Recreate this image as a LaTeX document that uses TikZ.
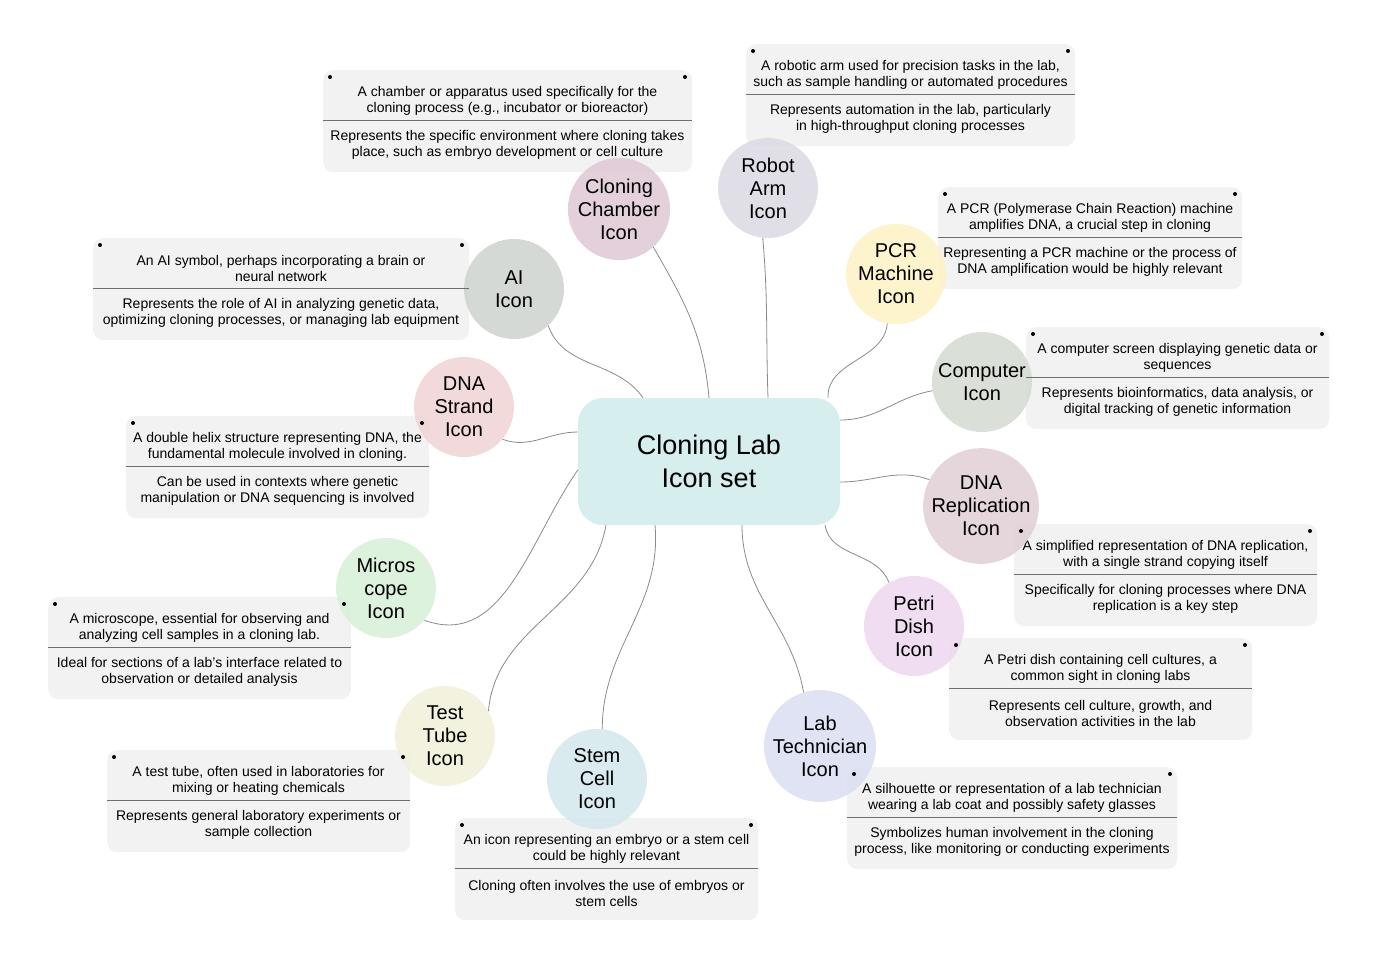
\documentclass[tikz,border=0pt]{standalone}
\usepackage{fontspec}
\setmainfont{Liberation Sans}
\usepackage{xcolor}
\definecolor{rootfill}{HTML}{D6EEEE}
\definecolor{cardfill}{HTML}{F2F2F2}
\definecolor{cardrule}{HTML}{6E6E6E}
\definecolor{linkgray}{HTML}{8A8A8A}
\definecolor{chamberfill}{HTML}{DFCAD6}
\definecolor{robotfill}{HTML}{DCDAE4}
\definecolor{aifill}{HTML}{CFD4D0}
\definecolor{pcrfill}{HTML}{FDF1C6}
\definecolor{computerfill}{HTML}{D5DBD2}
\definecolor{strandfill}{HTML}{F0D5D6}
\definecolor{replfill}{HTML}{E0D0D5}
\definecolor{microfill}{HTML}{D8F0D8}
\definecolor{petrifill}{HTML}{EFD8F0}
\definecolor{tubefill}{HTML}{F0F0D9}
\definecolor{stemfill}{HTML}{D5E8EE}
\definecolor{techfill}{HTML}{DCDFF2}
\pgfdeclarelayer{front}
\pgfsetlayers{main,front}
\tikzset{
  root/.style={rounded corners=25pt, fill=rootfill, minimum width=262pt, minimum height=127pt,
    align=center, font=\fontsize{27}{33}\selectfont},
  icon/.style={circle, minimum size=100pt, inner sep=0pt, align=center,
    font=\fontsize{20}{23}\selectfont, fill opacity=0.88, text opacity=1},
  cardbox/.style={rounded corners=10pt, fill=cardfill, minimum height=102pt, inner sep=0pt},
  cardtext/.style={align=center, inner sep=0pt, font=\fontsize{14}{16}\selectfont},
  link/.style={draw=linkgray, line width=0.8pt}
}
% card: name, left x, top y, width, first text, second text
\newcommand{\infocard}[6]{
  \begin{scope}[shift={(#2,-#3)}]
    \node[cardbox, minimum width=#4pt, anchor=north west] (#1) at (0,0) {};
    \node[cardtext] (#1-a) at (#4/2,-30.5) {#5};
    \node[cardtext] (#1-b) at (#4/2,-75) {#6};
    \begin{pgfonlayer}{front}
      \draw[cardrule, line width=0.8pt] (0,-50.5) -- (#4,-50.5);
      \fill (7,-7) circle (2pt);
      \fill (#4-7,-7) circle (2pt);
    \end{pgfonlayer}
  \end{scope}
}
\begin{document}
\begin{tikzpicture}[x=1pt,y=1pt]
    \useasboundingbox (0,0) rectangle (1377,-964);
    \node[root] (root) at (709,-461.5) {Cloning Lab\\Icon set};
    % cards
    \infocard{chambercard}{323}{70}{369}{A chamber or apparatus used specifically for the\\cloning process (e.g., incubator or bioreactor)}{Represents the specific environment where cloning takes\\place, such as embryo development or cell culture}
    \infocard{robotcard}{746}{44}{329}{A robotic arm used for precision tasks in the lab,\\such as sample handling or automated procedures}{Represents automation in the lab, particularly\\in high-throughput cloning processes}
    \infocard{pcrcard}{938}{187}{304}{A PCR (Polymerase Chain Reaction) machine\\amplifies DNA, a crucial step in cloning}{Representing a PCR machine or the process of\\DNA amplification would be highly relevant}
    \infocard{aicard}{93}{238}{376}{An AI symbol, perhaps incorporating a brain or\\neural network}{Represents the role of AI in analyzing genetic data,\\optimizing cloning processes, or managing lab equipment}
    \infocard{computercard}{1026}{327}{303}{A computer screen displaying genetic data or\\sequences}{Represents bioinformatics, data analysis, or\\digital tracking of genetic information}
    \infocard{strandcard}{126}{416}{303}{A double helix structure representing DNA, the\\fundamental molecule involved in cloning.}{Can be used in contexts where genetic\\manipulation or DNA sequencing is involved}
    \infocard{replcard}{1014}{524}{303}{A simplified representation of DNA replication,\\with a single strand copying itself}{Specifically for cloning processes where DNA\\replication is a key step}
    \infocard{microcard}{48}{597}{303}{A microscope, essential for observing and\\analyzing cell samples in a cloning lab.}{Ideal for sections of a lab's interface related to\\observation or detailed analysis}
    \infocard{petricard}{949}{638}{303}{A Petri dish containing cell cultures, a\\common sight in cloning labs}{Represents cell culture, growth, and\\observation activities in the lab}
    \infocard{tubecard}{107}{750}{303}{A test tube, often used in laboratories for\\mixing or heating chemicals}{Represents general laboratory experiments or\\sample collection}
    \infocard{stemcard}{455}{818}{303}{An icon representing an embryo or a stem cell\\could be highly relevant}{Cloning often involves the use of embryos or\\stem cells}
    \infocard{techcard}{847}{767}{330}{A silhouette or representation of a lab technician\\wearing a lab coat and possibly safety glasses}{Symbolizes human involvement in the cloning\\process, like monitoring or conducting experiments}
    % icons
    \node[icon, fill=chamberfill] (chamber) at (619,-209) {Cloning\\Chamber\\Icon};
    \node[icon, fill=robotfill] (robot) at (768,-188) {Robot\\Arm\\Icon};
    \node[icon, fill=aifill] (ai) at (514,-289) {AI\\Icon};
    \node[icon, fill=pcrfill] (pcr) at (896,-274) {PCR\\Machine\\Icon};
    \node[icon, fill=computerfill] (computer) at (982,-382) {Computer\\Icon};
    \node[icon, fill=strandfill] (strand) at (464,-407) {DNA\\Strand\\Icon};
    \node[icon, fill=replfill, minimum size=103pt] (repl) at (981,-506) {DNA\\Replication\\Icon};
    \node[icon, fill=microfill] (micro) at (386,-588) {Micros\\cope\\Icon};
    \node[icon, fill=petrifill] (petri) at (914,-626) {Petri\\Dish\\Icon};
    \node[icon, fill=tubefill] (tube) at (445,-736) {Test\\Tube\\Icon};
    \node[icon, fill=stemfill] (stem) at (597,-779) {Stem\\Cell\\Icon};
    \node[icon, fill=techfill, minimum size=103pt] (tech) at (820,-746) {Lab\\Technician\\Icon};
    % links
    \draw[link] (root.north) to[out=95,in=-60] (chamber.-48);
    \draw[link] ([xshift=59pt]root.north) to[out=92,in=-85] (robot.-96);
    \draw[link] ([xshift=-66pt]root.north) to[out=125,in=-70] (ai.-47);
    \draw[link] ([xshift=119pt]root.north) to[out=92,in=-95] (pcr.-100);
    \draw[link] ([yshift=41.5pt]root.east) to[out=0,in=190] (computer.190);
    \draw[link] ([yshift=29.5pt]root.west) to[out=180,in=-20] (strand.-40);
    \draw[link] ([yshift=-20.5pt]root.east) to[out=0,in=160] (repl.153);
    \draw[link] ([yshift=-8.5pt]root.west) to[out=-125,in=-20] (micro.-40);
    \draw[link] ([xshift=116pt]root.south) to[out=-80,in=110] (petri.120);
    \draw[link] ([xshift=-103pt]root.south) to[out=-100,in=85] (tube.30);
    \draw[link] ([xshift=-54pt]root.south) to[out=-85,in=90] (stem.84);
    \draw[link] ([xshift=33pt]root.south) to[out=-90,in=100] (tech.107);
\end{tikzpicture}
\end{document}
